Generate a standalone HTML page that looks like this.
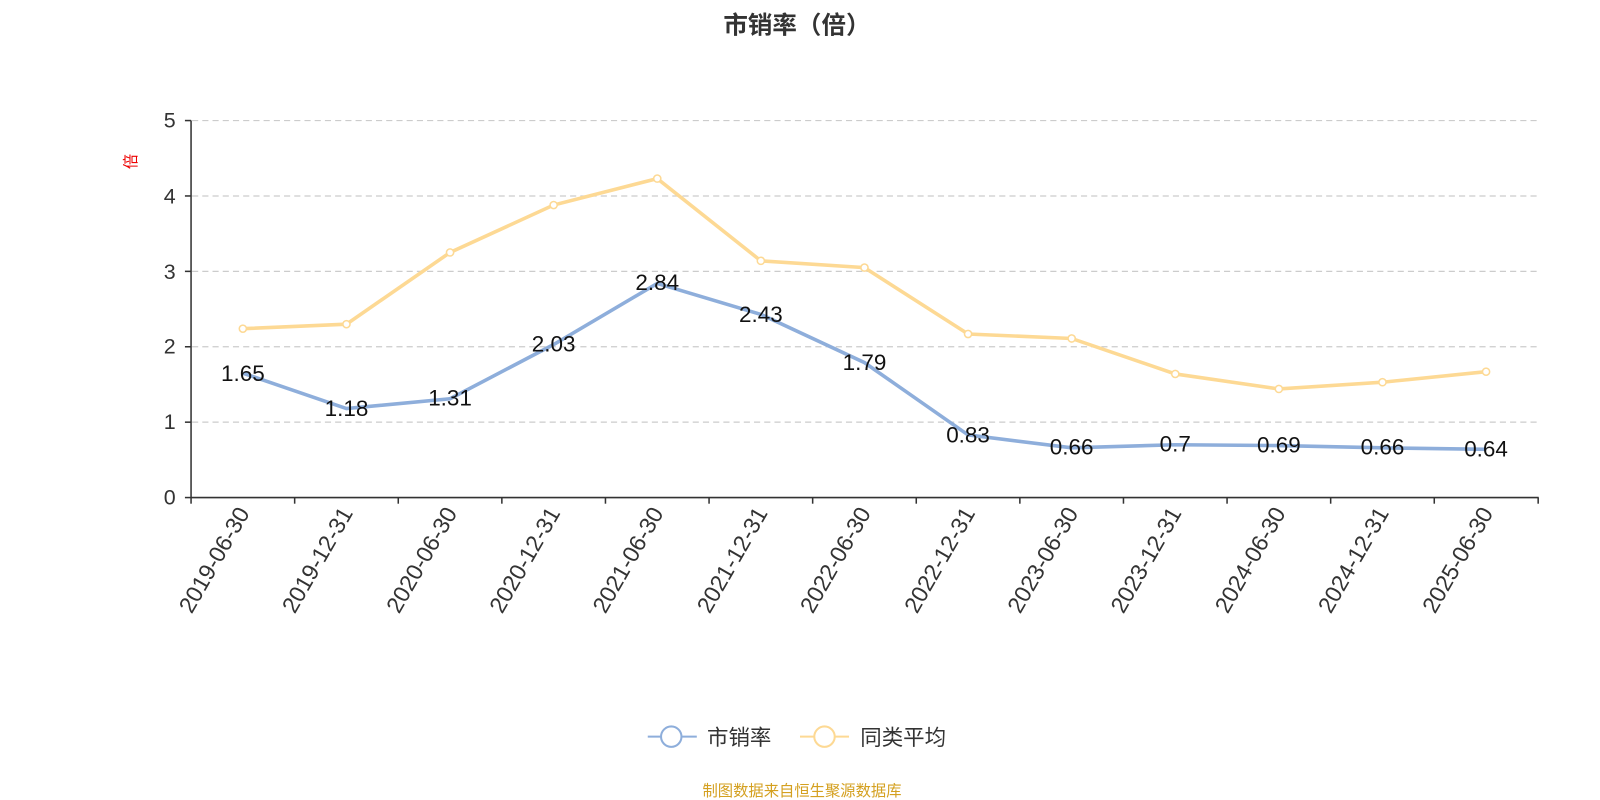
<!DOCTYPE html>
<html><head><meta charset="utf-8"><style>
html,body{margin:0;padding:0;background:#fff;}
svg{display:block;font-family:"Liberation Sans","Noto Sans CJK SC",sans-serif;}
</style></head><body>
<svg width="1600" height="800" viewBox="0 0 1600 800">
<g transform="scale(1.0217)">
<text x="780" y="33" text-anchor="middle" font-size="24" font-weight="bold" fill="#333">市销率（倍）</text>
<text transform="translate(133,158) rotate(-90)" text-anchor="middle" font-size="15" fill="#e00">倍</text>
<g stroke="#ccc" stroke-dasharray="6,4" stroke-width="1.2">
<line x1="188" y1="118" x2="1505" y2="118"/><line x1="188" y1="191.8" x2="1505" y2="191.8"/>
<line x1="188" y1="265.6" x2="1505" y2="265.6"/><line x1="188" y1="339.4" x2="1505" y2="339.4"/>
<line x1="188" y1="413.2" x2="1505" y2="413.2"/></g>
<g stroke="#333" stroke-width="1.5">
<line x1="187" y1="118" x2="187" y2="487"/><line x1="187" y1="487" x2="1506" y2="487"/>
<line x1="181" y1="118" x2="187" y2="118"/><line x1="181" y1="191.8" x2="187" y2="191.8"/>
<line x1="181" y1="265.6" x2="187" y2="265.6"/><line x1="181" y1="339.4" x2="187" y2="339.4"/>
<line x1="181" y1="413.2" x2="187" y2="413.2"/><line x1="181" y1="487" x2="187" y2="487"/>
<line x1="187" y1="487" x2="187" y2="493"/><line x1="288.4" y1="487" x2="288.4" y2="493"/>
<line x1="389.8" y1="487" x2="389.8" y2="493"/><line x1="491.2" y1="487" x2="491.2" y2="493"/>
<line x1="592.6" y1="487" x2="592.6" y2="493"/><line x1="694" y1="487" x2="694" y2="493"/>
<line x1="795.4" y1="487" x2="795.4" y2="493"/><line x1="896.8" y1="487" x2="896.8" y2="493"/>
<line x1="998.2" y1="487" x2="998.2" y2="493"/><line x1="1099.6" y1="487" x2="1099.6" y2="493"/>
<line x1="1201" y1="487" x2="1201" y2="493"/><line x1="1302.4" y1="487" x2="1302.4" y2="493"/>
<line x1="1403.8" y1="487" x2="1403.8" y2="493"/><line x1="1505.5" y1="487" x2="1505.5" y2="493"/>
</g>
<g font-size="21" fill="#333" text-anchor="end">
<text x="172" y="125">5</text><text x="172" y="199">4</text><text x="172" y="273">3</text>
<text x="172" y="346">2</text><text x="172" y="420">1</text><text x="172" y="494">0</text>
</g>
<g font-size="22.5" fill="#333" text-anchor="end">
<text transform="translate(245,502) rotate(-60)">2019-06-30</text>
<text transform="translate(346,502) rotate(-60)">2019-12-31</text>
<text transform="translate(448,502) rotate(-60)">2020-06-30</text>
<text transform="translate(549,502) rotate(-60)">2020-12-31</text>
<text transform="translate(650,502) rotate(-60)">2021-06-30</text>
<text transform="translate(752,502) rotate(-60)">2021-12-31</text>
<text transform="translate(853,502) rotate(-60)">2022-06-30</text>
<text transform="translate(955,502) rotate(-60)">2022-12-31</text>
<text transform="translate(1056,502) rotate(-60)">2023-06-30</text>
<text transform="translate(1157,502) rotate(-60)">2023-12-31</text>
<text transform="translate(1259,502) rotate(-60)">2024-06-30</text>
<text transform="translate(1360,502) rotate(-60)">2024-12-31</text>
<text transform="translate(1462,502) rotate(-60)">2025-06-30</text>
</g>
<polyline fill="none" stroke="#fdd994" stroke-width="3.5" points="237.7,321.7 339.1,317.3 440.5,247.1 541.9,200.7 643.3,174.8 744.7,255.3 846.1,261.9 947.5,326.9 1048.9,331.3 1150.3,366 1251.7,380.7 1353.1,374.1 1454.5,363.8"/>
<g fill="#fff" stroke="#fdd994" stroke-width="1.5">
<circle cx="237.7" cy="321.7" r="3.5"/><circle cx="339.1" cy="317.3" r="3.5"/><circle cx="440.5" cy="247.1" r="3.5"/>
<circle cx="541.9" cy="200.7" r="3.5"/><circle cx="643.3" cy="174.8" r="3.5"/><circle cx="744.7" cy="255.3" r="3.5"/>
<circle cx="846.1" cy="261.9" r="3.5"/><circle cx="947.5" cy="326.9" r="3.5"/><circle cx="1048.9" cy="331.3" r="3.5"/>
<circle cx="1150.3" cy="366" r="3.5"/><circle cx="1251.7" cy="380.7" r="3.5"/><circle cx="1353.1" cy="374.1" r="3.5"/>
<circle cx="1454.5" cy="363.8" r="3.5"/></g>
<polyline fill="none" stroke="#8eaedb" stroke-width="3.5" points="237.7,365.2 339.1,399.9 440.5,390.3 541.9,337.2 643.3,277.4 744.7,307.7 846.1,354.9 947.5,425.7 1048.9,438.3 1150.3,435.3 1251.7,436.1 1353.1,438.3 1454.5,439.8"/>
<g font-size="22" fill="#111" text-anchor="middle">
<text x="237.7" y="373">1.65</text><text x="339.1" y="407">1.18</text><text x="440.5" y="397">1.31</text>
<text x="541.9" y="344">2.03</text><text x="643.3" y="284">2.84</text><text x="744.7" y="315">2.43</text>
<text x="846.1" y="362">1.79</text><text x="947.5" y="433">0.83</text><text x="1048.9" y="445">0.66</text>
<text x="1150.3" y="442">0.7</text><text x="1251.7" y="443">0.69</text><text x="1353.1" y="445">0.66</text>
<text x="1454.5" y="447">0.64</text></g>
<line x1="634" y1="721" x2="682" y2="721" stroke="#8eaedb" stroke-width="2"/>
<circle cx="657" cy="721" r="10" fill="#fff" stroke="#8eaedb" stroke-width="2"/>
<text x="692" y="729" font-size="21" fill="#333">市销率</text>
<line x1="783" y1="721" x2="831" y2="721" stroke="#fdd994" stroke-width="2"/>
<circle cx="807" cy="721" r="10" fill="#fff" stroke="#fdd994" stroke-width="2"/>
<text x="842" y="729" font-size="21" fill="#333">同类平均</text>
<text x="785" y="779" text-anchor="middle" font-size="15" fill="#d4a020">制图数据来自恒生聚源数据库</text>
</g>
</svg>
</body></html>
